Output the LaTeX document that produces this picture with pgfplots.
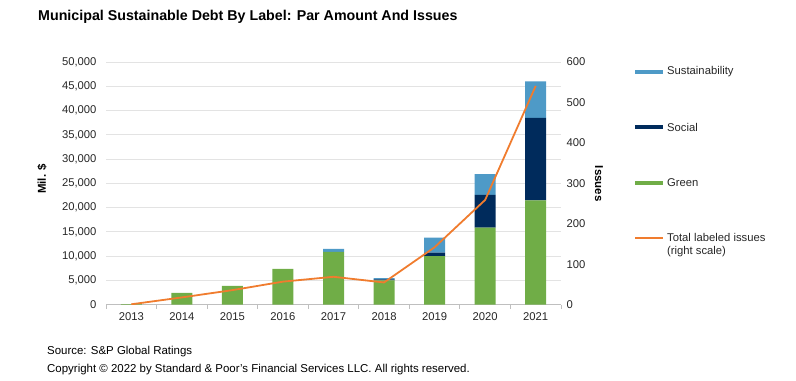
\documentclass[border=0pt]{standalone}
\usepackage{pgfplots}
\pgfplotsset{compat=1.18}
\usepackage{fontspec}
\setmainfont{Liberation Sans}
\definecolor{cgreen}{HTML}{70AD47}
\definecolor{csocial}{HTML}{002B5C}
\definecolor{csust}{HTML}{4E9AC7}
\definecolor{corange}{HTML}{F07C2E}
\definecolor{cgrid}{HTML}{E3E3E3}
\definecolor{caxis}{HTML}{BFBFBF}
\definecolor{ctext}{HTML}{262626}
\begin{document}
\begin{tikzpicture}
\useasboundingbox (0,0) rectangle (796bp,381bp);
\begin{axis}[
  at={(106bp,76.3bp)}, anchor=south west, scale only axis,
  width=455bp, height=242.7bp,
  xmin=-0.5, xmax=8.5, ymin=0, ymax=50000,
  ybar stacked, bar width=21bp,
  xtick={-0.5,0.5,...,8.5}, x tick label as interval,
  xticklabels={2013,2014,2015,2016,2017,2018,2019,2020,2021},
  ytick={0,5000,...,50000},
  axis x line*=bottom, axis y line*=left,
  y axis line style={draw=none},
  x axis line style={draw=caxis, line width=0.8bp},
  ymajorgrids, grid style={cgrid, line width=0.8bp},
  tick align=outside,
  major tick length=4bp,
  xtick style={draw=caxis, line width=0.8bp},
  ytick style={draw=none},
  /pgf/number format/assume math mode=true,
  /pgf/number format/1000 sep={,},
  scaled y ticks=false,
  tick label style={font=\fontsize{11.3}{13}\selectfont, text=ctext},
  yticklabel style={xshift=-2bp},
]
\addplot[fill=cgreen, draw=none] coordinates {(0,100)(1,2450)(2,3900)(3,7400)(4,10900)(5,5000)(6,10000)(7,15900)(8,21500)};
\addplot[fill=csocial, draw=none] coordinates {(0,0)(1,0)(2,0)(3,0)(4,0)(5,200)(6,750)(7,6700)(8,17000)};
\addplot[fill=csust, draw=none] coordinates {(0,0)(1,0)(2,0)(3,0)(4,600)(5,300)(6,3050)(7,4300)(8,7500)};
\end{axis}
\begin{axis}[
  at={(106bp,76.3bp)}, anchor=south west, scale only axis,
  width=455bp, height=242.7bp,
  xmin=-0.5, xmax=8.5, ymin=0, ymax=600,
  axis x line=none, axis y line*=right,
  y axis line style={draw=none},
  ytick={0,100,...,600}, ytick style={draw=none},
  /pgf/number format/assume math mode=true,
  tick label style={font=\fontsize{11.3}{13}\selectfont, text=ctext},
  yticklabel style={xshift=2bp},
]
\addplot[corange, line width=1.8bp] coordinates {(0,1)(1,18)(2,36)(3,57)(4,69)(5,55)(6,142)(7,259)(8,541)};
\end{axis}
% title and axis labels
\node[anchor=west, inner sep=0pt, font=\fontsize{14.3}{16}\selectfont\bfseries, text=black] at (38bp,364bp) {Municipal Sustainable Debt By Label: Par Amount And Issues};
\node[rotate=90, font=\fontsize{11.5}{13}\selectfont\bfseries, text=black] at (42bp,202bp) {Mil. \$};
\node[rotate=-90, font=\fontsize{11.5}{13}\selectfont\bfseries, text=black] at (599bp,197.3bp) {Issues};
% legend
\draw[csust, line width=4bp] (635bp,309bp) -- (663bp,309bp);
\node[anchor=west, inner sep=0pt, font=\fontsize{11.3}{13}\selectfont, text=ctext] at (667bp,309bp) {Sustainability};
\draw[csocial, line width=4bp] (635bp,254bp) -- (663bp,254bp);
\node[anchor=west, inner sep=0pt, font=\fontsize{11.3}{13}\selectfont, text=ctext] at (667bp,254bp) {Social};
\draw[cgreen, line width=4bp] (635bp,198.3bp) -- (663bp,198.3bp);
\node[anchor=west, inner sep=0pt, font=\fontsize{11.3}{13}\selectfont, text=ctext] at (667bp,198.3bp) {Green};
\draw[corange, line width=1.8bp] (635bp,143.3bp) -- (663bp,143.3bp);
\node[anchor=west, inner sep=0pt, font=\fontsize{11.3}{13}\selectfont, text=ctext] at (667bp,143.3bp) {Total labeled issues};
\node[anchor=west, inner sep=0pt, font=\fontsize{11.3}{13}\selectfont, text=ctext] at (667bp,129.3bp) {(right scale)};
% source
\node[anchor=west, inner sep=0pt, font=\fontsize{11.5}{13}\selectfont, text=black] at (47bp,29bp) {Source: S\&P Global Ratings};
\node[anchor=west, inner sep=0pt, font=\fontsize{11.5}{13}\selectfont, text=black] at (47bp,11bp) {Copyright © 2022 by Standard \& Poor's Financial Services LLC. All rights reserved.};
\end{tikzpicture}
\end{document}
